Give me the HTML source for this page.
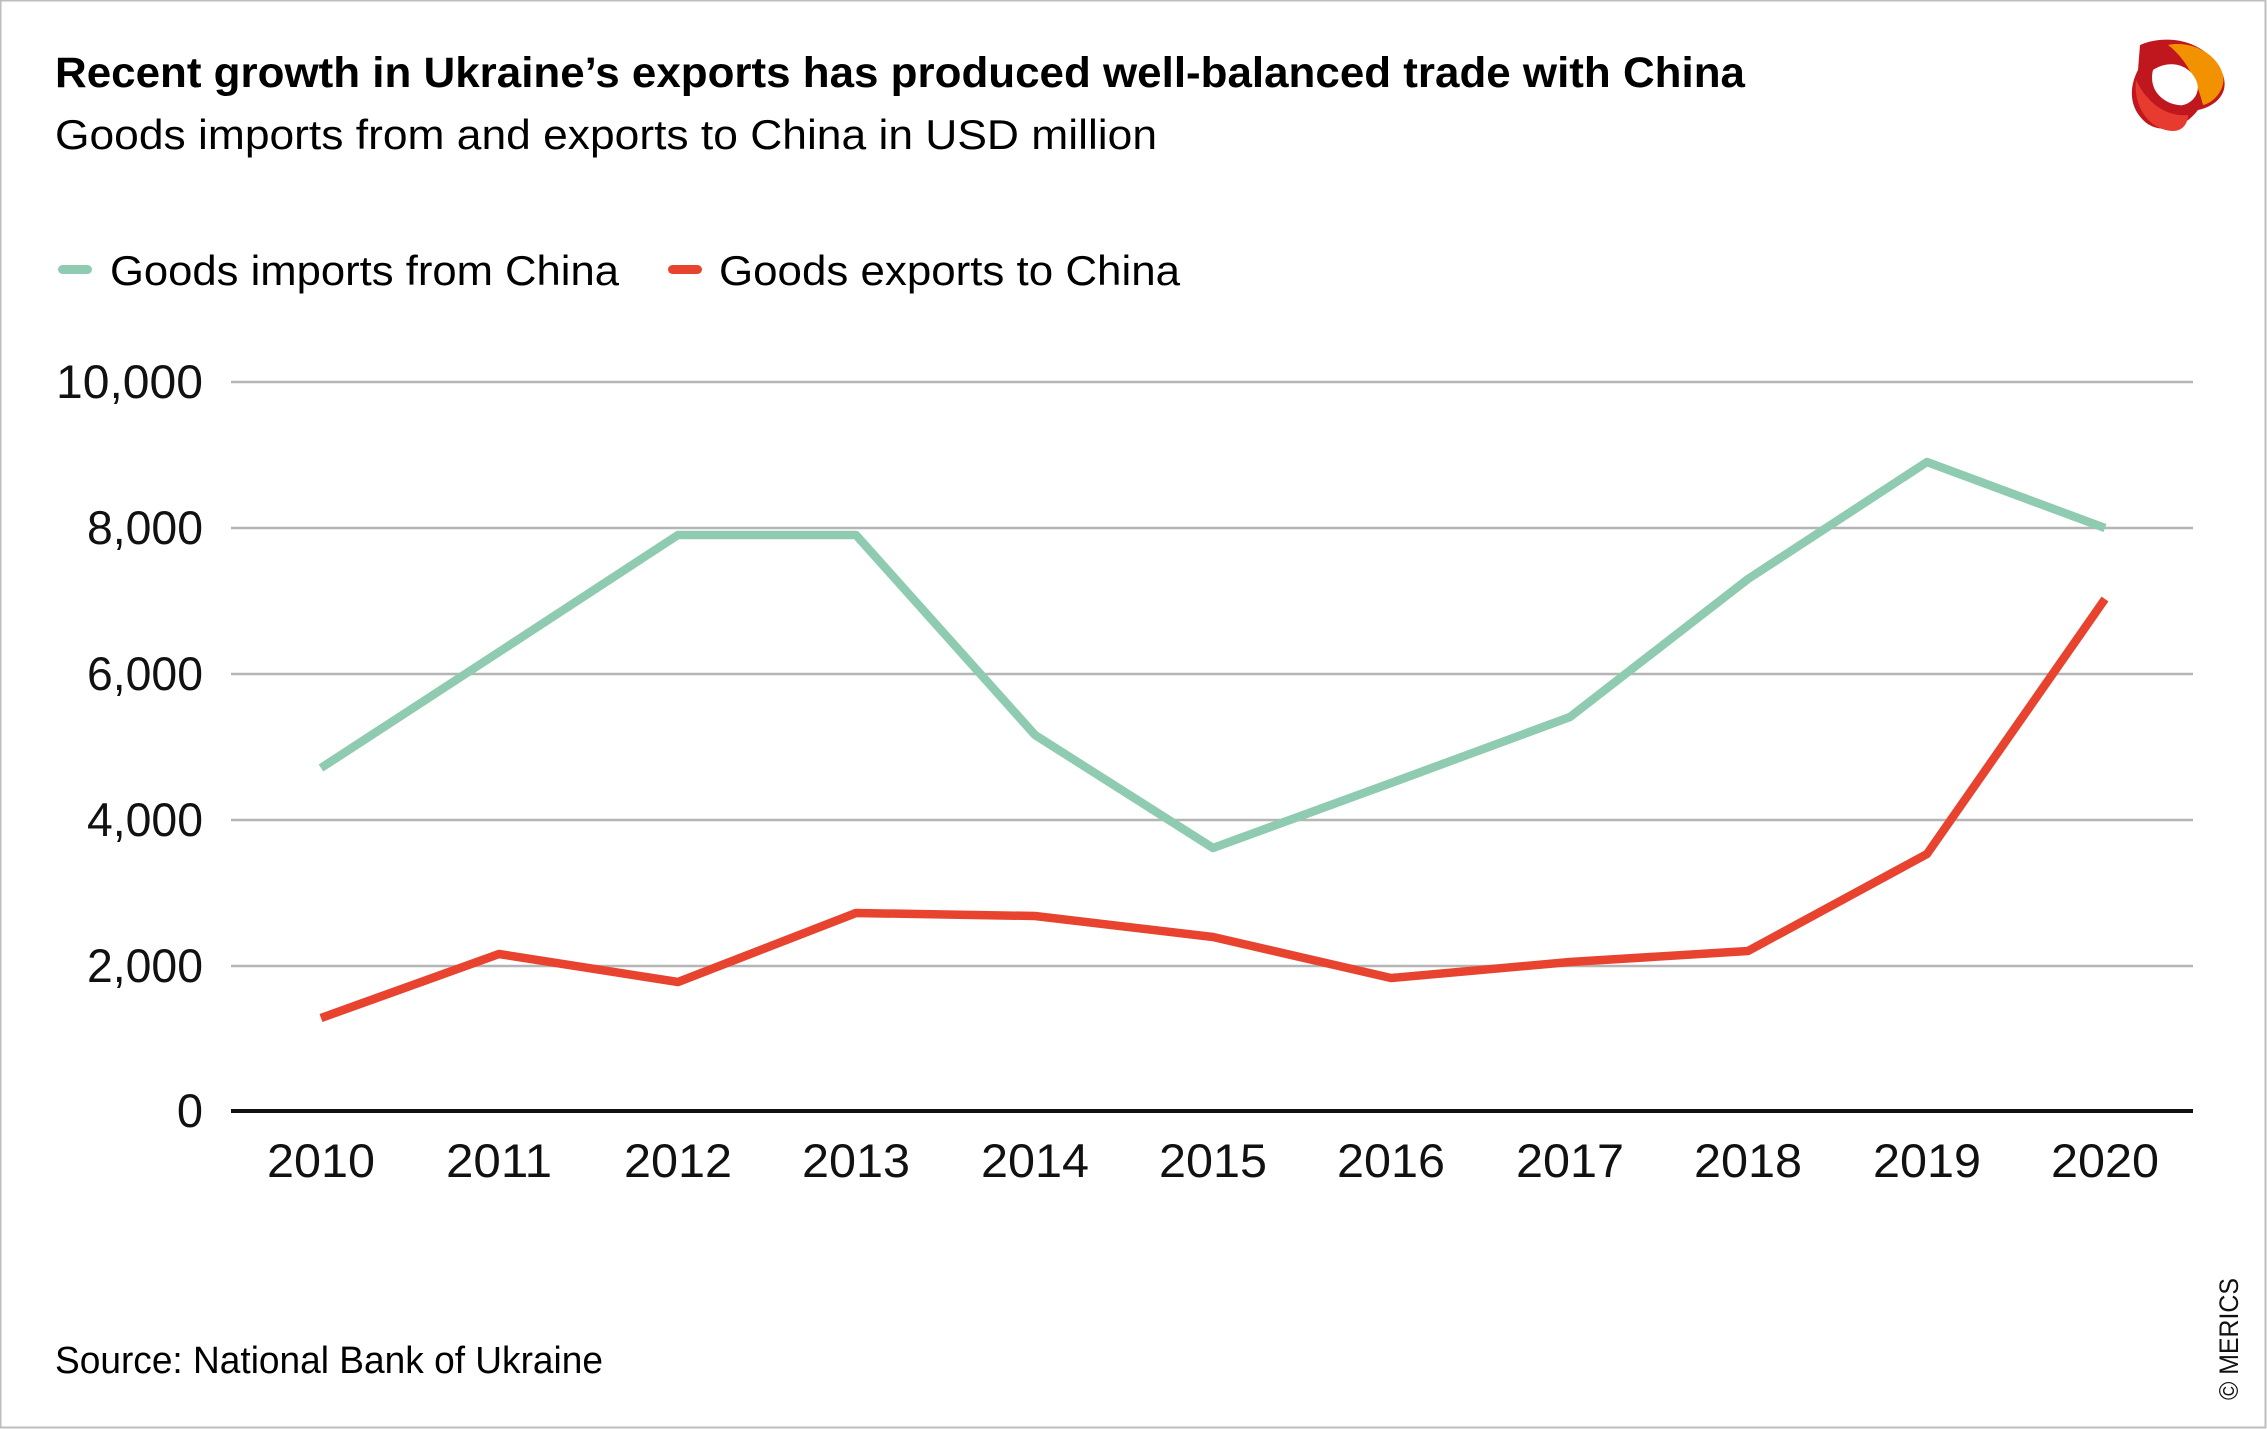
<!DOCTYPE html>
<html><head><meta charset="utf-8"><style>
html,body{margin:0;padding:0;background:#fff;}
svg{display:block;font-family:"Liberation Sans Narrow","Liberation Sans",sans-serif;}
</style></head><body>
<svg width="2267" height="1429" viewBox="0 0 2267 1429" xmlns="http://www.w3.org/2000/svg">
<rect x="0.5" y="0.5" width="2265" height="1427" fill="#fff" stroke="#bdbdbd" stroke-width="2"/>
<text x="55" y="87" font-size="43" font-weight="bold" textLength="1690" lengthAdjust="spacingAndGlyphs">Recent growth in Ukraine’s exports has produced well-balanced trade with China</text>
<text x="55" y="149" font-size="42" textLength="1102" lengthAdjust="spacingAndGlyphs">Goods imports from and exports to China in USD million</text>
<g transform="translate(2178,85)">
<path d="M-38,-40 C-10,-52 30,-45 45,-10 C52,10 35,22 20,25 C5,45 -20,50 -35,35 C-50,20 -48,0 -40,-15 Z" fill="#c0171f"/>
<path d="M-10,-40 C15,-45 40,-30 45,-10 C48,5 35,18 25,20 C20,0 10,-25 -10,-40 Z" fill="#f39200"/>
<path d="M-25,-15 C-10,-25 10,-22 18,-5 C25,10 10,22 0,20 C-15,18 -30,5 -25,-15 Z" fill="#fff"/>
<path d="M-42,-5 C-45,20 -30,45 -5,46 C5,46 10,38 10,30 C-10,32 -30,20 -42,-5 Z" fill="#e63b2e"/>
</g>
<rect x="58" y="265" width="34" height="9" rx="4.5" fill="#8fcbb1"/>
<text x="110" y="285" font-size="42" textLength="509" lengthAdjust="spacingAndGlyphs">Goods imports from China</text>
<rect x="668" y="265" width="34" height="9" rx="4.5" fill="#e8432f"/>
<text x="719" y="285" font-size="42" textLength="461" lengthAdjust="spacingAndGlyphs">Goods exports to China</text>
<g stroke="#b5b5b5" stroke-width="2.5">
<line x1="231" y1="382" x2="2193" y2="382"/>
<line x1="231" y1="528" x2="2193" y2="528"/>
<line x1="231" y1="674" x2="2193" y2="674"/>
<line x1="231" y1="820" x2="2193" y2="820"/>
<line x1="231" y1="966" x2="2193" y2="966"/>
</g>
<line x1="231" y1="1111" x2="2193" y2="1111" stroke="#111" stroke-width="4"/>
<g font-size="47" text-anchor="end" fill="#111">
<text x="203" y="398" textLength="147" lengthAdjust="spacingAndGlyphs">10,000</text>
<text x="203" y="544" textLength="116" lengthAdjust="spacingAndGlyphs">8,000</text>
<text x="203" y="690" textLength="116" lengthAdjust="spacingAndGlyphs">6,000</text>
<text x="203" y="836" textLength="116" lengthAdjust="spacingAndGlyphs">4,000</text>
<text x="203" y="982" textLength="116" lengthAdjust="spacingAndGlyphs">2,000</text>
<text x="203" y="1127">0</text>
</g>
<g font-size="47" text-anchor="middle" fill="#111">
<text x="321" y="1177" textLength="108" lengthAdjust="spacingAndGlyphs">2010</text>
<text x="499" y="1177" textLength="106" lengthAdjust="spacingAndGlyphs">2011</text>
<text x="678" y="1177" textLength="108" lengthAdjust="spacingAndGlyphs">2012</text>
<text x="856" y="1177" textLength="108" lengthAdjust="spacingAndGlyphs">2013</text>
<text x="1035" y="1177" textLength="108" lengthAdjust="spacingAndGlyphs">2014</text>
<text x="1213" y="1177" textLength="108" lengthAdjust="spacingAndGlyphs">2015</text>
<text x="1391" y="1177" textLength="108" lengthAdjust="spacingAndGlyphs">2016</text>
<text x="1570" y="1177" textLength="108" lengthAdjust="spacingAndGlyphs">2017</text>
<text x="1748" y="1177" textLength="108" lengthAdjust="spacingAndGlyphs">2018</text>
<text x="1927" y="1177" textLength="108" lengthAdjust="spacingAndGlyphs">2019</text>
<text x="2105" y="1177" textLength="108" lengthAdjust="spacingAndGlyphs">2020</text>
</g>
<polyline fill="none" stroke="#8fcbb1" stroke-width="8.5" stroke-linejoin="round" points="321,768 499,652 678,535 856,535 1035,735 1213,848 1391,783 1570,717 1748,579 1927,462 2105,528"/>
<polyline fill="none" stroke="#e8432f" stroke-width="8.5" stroke-linejoin="round" points="321,1018 499,954 678,982 856,913 1035,916 1213,937 1391,978 1570,962 1748,951 1927,854 2105,599"/>
<text x="55" y="1373" font-size="38" textLength="548" lengthAdjust="spacingAndGlyphs">Source: National Bank of Ukraine</text>
<text transform="translate(2238,1400) rotate(-90)" font-size="27" fill="#111" textLength="122" lengthAdjust="spacingAndGlyphs">© MERICS</text>
</svg>
</body></html>
